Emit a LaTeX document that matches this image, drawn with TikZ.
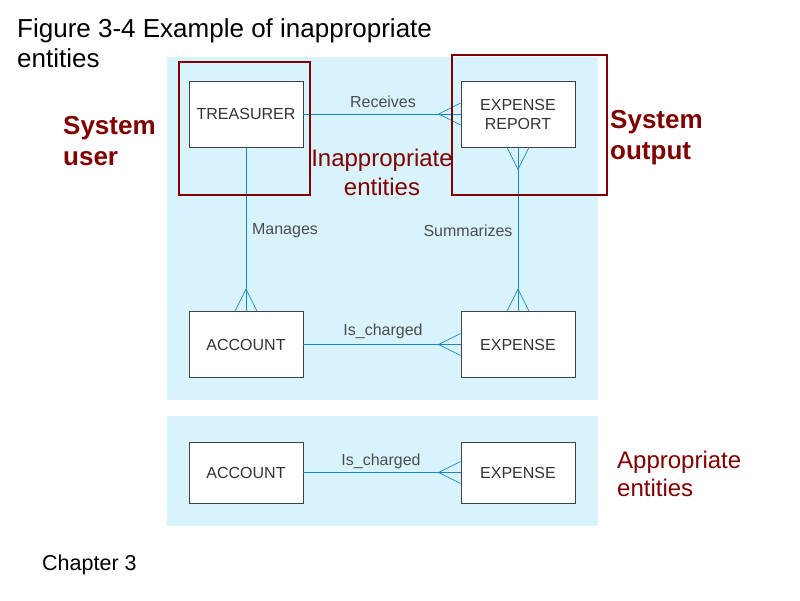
\documentclass[tikz,border=0pt]{standalone}
\usepackage{fontspec}
\setmainfont{Liberation Sans}
\usetikzlibrary{calc}
\begin{document}
\begin{tikzpicture}[x=1pt,y=-1pt,
  ent/.style={draw=black!75,fill=white,line width=0.8pt,minimum width=114pt,minimum height=66pt,inner sep=0pt,font=\fontsize{16}{19}\selectfont,text=black!80,align=center},
  rel/.style={draw=cyan!70!blue,line width=0.7pt},
  lab/.style={font=\fontsize{16}{18}\selectfont,text=black!70},
  red/.style={draw=red!50!black,line width=1.2pt},
  note/.style={text=red!50!black,align=left}]
\useasboundingbox (0,0) rectangle (800,600);
\fill[cyan!15] (167,57) rectangle (598,400);
\fill[cyan!15] (167,416) rectangle (598,526);
\node[ent] (tr) at (246,114) {TREASURER};
\node[ent] (er) at (518,114) {EXPENSE\\REPORT};
\node[ent] (ac) at (246,344.5) {ACCOUNT};
\node[ent] (ex) at (518,344.5) {EXPENSE};
\node[ent,minimum height=61pt] (ac2) at (246,472.5) {ACCOUNT};
\node[ent,minimum height=61pt] (ex2) at (518,472.5) {EXPENSE};
% relationships
\draw[rel] (tr.east) -- (er.west);
\draw[rel] ($(er.west)+(-22,0)$) -- ($(er.west)+(0,-11)$) ($(er.west)+(-22,0)$) -- ($(er.west)+(0,11)$);
\draw[rel] (tr.south) -- (ac.north);
\draw[rel] ($(ac.north)+(0,-22)$) -- ($(ac.north)+(-11,0)$) ($(ac.north)+(0,-22)$) -- ($(ac.north)+(11,0)$);
\draw[rel] (er.south) -- (ex.north);
\draw[rel] ($(er.south)+(0,22)$) -- ($(er.south)+(-11,0)$) ($(er.south)+(0,22)$) -- ($(er.south)+(11,0)$);
\draw[rel] ($(ex.north)+(0,-22)$) -- ($(ex.north)+(-11,0)$) ($(ex.north)+(0,-22)$) -- ($(ex.north)+(11,0)$);
\draw[rel] (ac.east) -- (ex.west);
\draw[rel] ($(ex.west)+(-22,0)$) -- ($(ex.west)+(0,-11)$) ($(ex.west)+(-22,0)$) -- ($(ex.west)+(0,11)$);
\draw[rel] (ac2.east) -- (ex2.west);
\draw[rel] ($(ex2.west)+(-22,0)$) -- ($(ex2.west)+(0,-11)$) ($(ex2.west)+(-22,0)$) -- ($(ex2.west)+(0,11)$);
\node[lab] (l1) at (383,102) {Receives};
\node[lab] (l2) at (285,231) {Manages};
\node[lab] (l3) at (468,231) {Summarizes};
\node[lab] (l4) at (383,331) {Is\_charged};
\node[lab] (l5) at (381,461) {Is\_charged};
% red frames
\draw[red] (179,62) rectangle (310,195);
\draw[red] (452,55) rectangle (607,195);
% texts
\node[font=\fontsize{26}{30}\selectfont,align=left,anchor=west,inner sep=0pt] (title) at (17,43) {Figure 3-4 Example of inappropriate\\entities};
\node[note,font=\fontsize{26}{31}\selectfont\bfseries,anchor=west,inner sep=0pt] (su) at (63,141) {System\\user};
\node[note,font=\fontsize{26}{31}\selectfont\bfseries,anchor=west,inner sep=0pt] (so) at (610,138) {System\\output};
\node[note,align=center,font=\fontsize{24}{29}\selectfont,inner sep=0pt] (ie) at (382,172) {Inappropriate\\entities};
\node[note,font=\fontsize{24}{28}\selectfont,anchor=west,inner sep=0pt] (ae) at (617,474) {Appropriate\\entities};
\node[font=\fontsize{21.5}{24}\selectfont,anchor=west,inner sep=0pt] (ch) at (42,565) {Chapter 3};
\end{tikzpicture}
\end{document}
